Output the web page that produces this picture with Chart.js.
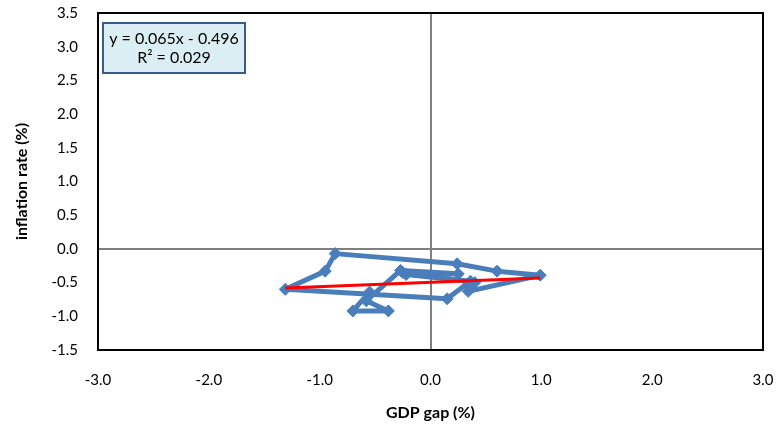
<!DOCTYPE html>
<html>
<head>
<meta charset="utf-8">
<script src="https://cdn.jsdelivr.net/npm/chart.js@4"></script>
<style>
  html, body { margin: 0; padding: 0; background: #fff; }
  #wrap { width: 784px; height: 426px; position: relative; }
</style>
</head>
<body>
<div id="wrap"><canvas id="myChart"></canvas></div>
<script>
// GDP gap (%) vs inflation rate (%)
var gdpGap = [-0.55, -0.70, -0.38, -0.58, -0.27, 0.25, -0.22, 0.36, 0.15, -1.31, -0.95, -0.86, 0.24, 0.60, 0.99, 0.34, 0.40, -0.25];
var inflation = [-0.64, -0.92, -0.92, -0.77, -0.32, -0.37, -0.38, -0.48, -0.74, -0.60, -0.33, -0.07, -0.22, -0.33, -0.39, -0.63, -0.50, -0.35];
var xTicks = [-3, -2, -1, 0, 1, 2, 3];
var yTicks = [-1.5, -1, -0.5, 0, 0.5, 1, 1.5, 2, 2.5, 3, 3.5];
var slope = 0.065;
var intercept = -0.496;
var eqLabel = 'y = 0.065x - 0.496';
var r2Label = 'R\u00b2 = 0.029';

var points = gdpGap.map(function (x, i) {
  return { x: x, y: inflation[i] };
});
var xMin = Math.min.apply(null, gdpGap);
var xMax = Math.max.apply(null, gdpGap);
var trend = [
  { x: xMin, y: slope * xMin + intercept },
  { x: xMax, y: slope * xMax + intercept },
];

var FONT = 'Lato, "Open Sans", sans-serif';

// plot border + equation box
var boxPlugin = {
  id: 'boxPlugin',
  afterDatasetsDraw: function (chart) {
    var ctx = chart.ctx;
    var a = chart.chartArea;
    ctx.save();
    ctx.strokeStyle = '#000';
    ctx.lineWidth = 2;
    ctx.strokeRect(a.left, a.top, a.right - a.left, a.bottom - a.top);

    var bx = a.left + 5, by = a.top + 10, bw = 142, bh = 50;
    ctx.fillStyle = '#DBEEF4';
    ctx.fillRect(bx, by, bw, bh);
    ctx.strokeStyle = '#385D8A';
    ctx.lineWidth = 2;
    ctx.strokeRect(bx, by, bw, bh);
    ctx.fillStyle = '#000';
    ctx.font = '16px ' + FONT;
    ctx.textAlign = 'center';
    ctx.textBaseline = 'middle';
    ctx.fillText(eqLabel, bx + bw / 2, by + 16);
    ctx.fillText(r2Label, bx + bw / 2, by + 35);
    ctx.restore();
  },
};

var ctx = document.getElementById('myChart').getContext('2d');
var myChart = new Chart(ctx, {
  type: 'scatter',
  data: {
    datasets: [
      {
        data: trend,
        showLine: true,
        borderColor: '#FF0000',
        borderWidth: 3,
        pointRadius: 0,
        order: 0,
      },
      {
        data: points,
        showLine: true,
        borderColor: '#4A7EBB',
        backgroundColor: '#4A7EBB',
        borderWidth: 5,
        borderJoinStyle: 'round',
        pointStyle: 'rectRot',
        pointRadius: 6,
        pointBorderWidth: 1,
        order: 1,
      },
    ],
  },
  options: {
    responsive: true,
    maintainAspectRatio: false,
    animation: false,
    events: [],
    layout: { padding: { top: 13, right: 21, bottom: 0, left: 0 } },
    plugins: {
      legend: { display: false },
      tooltip: { enabled: false },
    },
    scales: {
      x: {
        type: 'linear',
        min: -3,
        max: 3,
        afterBuildTicks: function (scale) {
          scale.ticks = xTicks.map(function (v) { return { value: v }; });
        },
        afterFit: function (scale) {
          scale.height = 76;
          scale.paddingLeft = 0;
          scale.paddingRight = 0;
        },
        ticks: {
          color: '#000',
          padding: 21,
          font: { size: 15, family: FONT },
          callback: function (v) { return v.toFixed(1); },
        },
        grid: {
          drawTicks: false,
          lineWidth: 2,
          color: function (c) { return c.tick && c.tick.value === 0 ? '#808080' : 'rgba(0,0,0,0)'; },
        },
        border: { display: false },
        title: {
          display: true,
          text: 'GDP gap (%)',
          color: '#000',
          font: { size: 16, weight: 'bold', family: FONT },
          padding: { top: 0, bottom: 4 },
        },
      },
      y: {
        type: 'linear',
        min: -1.5,
        max: 3.5,
        afterBuildTicks: function (scale) {
          scale.ticks = yTicks.map(function (v) { return { value: v }; });
        },
        afterFit: function (scale) {
          scale.width = 98;
          scale.paddingTop = 0;
          scale.paddingBottom = 0;
        },
        ticks: {
          color: '#000',
          padding: 20,
          font: { size: 15, family: FONT },
          callback: function (v) { return v.toFixed(1); },
        },
        grid: {
          drawTicks: false,
          lineWidth: 2,
          color: function (c) { return c.tick && c.tick.value === 0 ? '#808080' : 'rgba(0,0,0,0)'; },
        },
        border: { display: false },
        title: {
          display: true,
          text: 'inflation rate (%)',
          color: '#000',
          font: { size: 16, weight: 'bold', family: FONT },
          padding: { top: 12, bottom: 0 },
        },
      },
    },
  },
  plugins: [boxPlugin],
});
</script>
</body>
</html>
